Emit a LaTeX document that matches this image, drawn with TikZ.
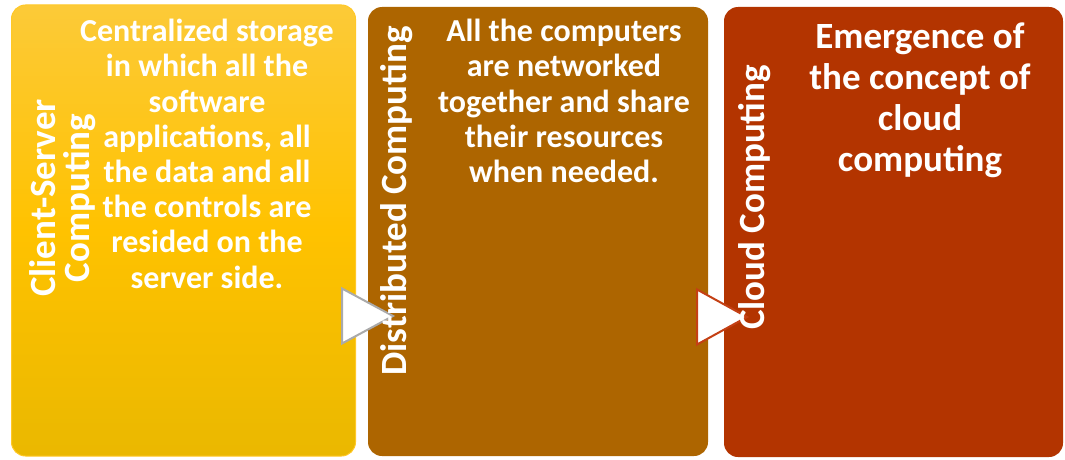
\documentclass[tikz,border=0pt]{standalone}
\usepackage{fontspec}
\setmainfont{Carlito}
\usetikzlibrary{positioning}
\usetikzlibrary{calc}

\definecolor{csyellowtop}{RGB}{252,202,56}
\definecolor{csyellowmid}{RGB}{255,194,0}
\definecolor{csyellowbot}{RGB}{234,184,0}
\definecolor{csborder}{RGB}{255,200,40}
\definecolor{distbrown}{RGB}{173,101,0}
\definecolor{cloudred}{RGB}{179,52,0}
\definecolor{arrowgray}{RGB}{170,170,170}
\definecolor{arrowred}{RGB}{196,64,20}

\begin{document}
\begin{tikzpicture}[x=1pt, y=1pt,
                stagebox/.style={rectangle, rounded corners=14pt, inner sep=0pt},
                titletext/.style={text=white, font=\bfseries\fontsize{37}{34}\selectfont, rotate=90, align=center, inner sep=0pt},
                desctext/.style={text=white, font=\bfseries\fontsize{32}{35.2}\selectfont, align=center, inner sep=0pt, anchor=north},
                stagearrow/.style={fill=white, line width=2pt, line join=miter},
                ]
                \useasboundingbox (0,0) rectangle (1065,459);

                % the three stages
                \node[stagebox, draw=csborder, line width=1pt, top color=csyellowtop, bottom color=csyellowbot, middle color=csyellowmid,
                      minimum width=344pt, minimum height=451pt] (CS) at (183.5,228.5) {};
                \node[stagebox, fill=distbrown, minimum width=340pt, minimum height=449pt] (DC) at (538,227.5) {};
                \node[stagebox, fill=cloudred, minimum width=339pt, minimum height=450pt] (CC) at (893.5,227) {};

                % arrows between the stages
                \coordinate (TA) at (393,143);
                \coordinate (TB) at (747,142);
                \draw[stagearrow, draw=arrowgray] (TA) -- ++(-51,27.5) -- ++(0,-55) -- cycle;
                \draw[stagearrow, draw=arrowred] (TB) -- ++(-50,27.5) -- ++(0,-55) -- cycle;

                % titles
                \node[titletext] (CST) at (63,261) {Client-Server\\Computing};
                \node[titletext] (DCT) at (397,258) {Distributed Computing};
                \node[titletext] (CCT) at (755,261.5) {Cloud Computing};

                % descriptions
                \node[desctext] (CSD) at (207,440) {Centralized storage\\in which all the\\software\\applications, all\\the data and all\\the controls are\\resided on the\\server side.};
                \node[desctext] (DCD) at (564,440) {All the computers\\are networked\\together and share\\their resources\\when needed.};
                \node[desctext, font=\bfseries\fontsize{37}{41}\selectfont] (CCD) at (920,436) {Emergence of\\the concept of\\cloud\\computing};
            \end{tikzpicture}
\end{document}
